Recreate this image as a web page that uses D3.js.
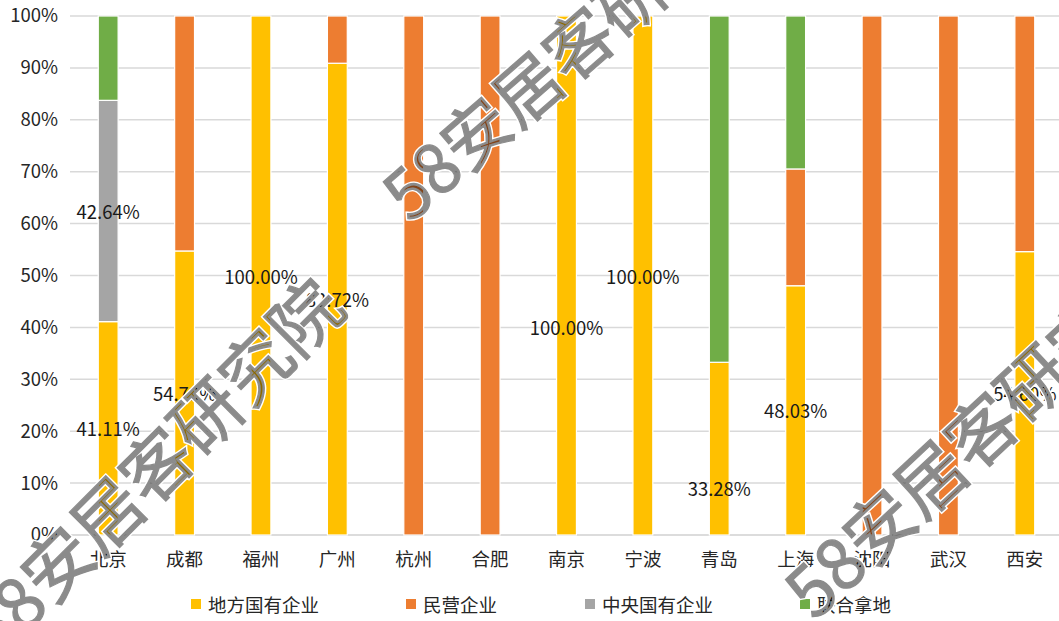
<!DOCTYPE html>
<html>
<head>
<meta charset="utf-8">
<script src="https://cdn.jsdelivr.net/npm/d3@7"></script>
<style>
html,body{margin:0;padding:0;background:#fff;}
svg{display:block;font-family:"Noto Sans CJK SC","Noto Sans",sans-serif;}
</style>
</head>
<body>
<svg id="chart" width="1059" height="621"></svg>
<script>
// ---- data ----
const cities = ["北京","成都","福州","广州","杭州","合肥","南京","宁波","青岛","上海","沈阳","武汉","西安"];
const seriesNames = ["地方国有企业","民营企业","中央国有企业","联合拿地"];
const localSOE   = [41.11, 54.73, 100, 90.9, 0, 0, 100, 100, 33.28, 48.03, 0, 0, 54.60];
const privateCo  = [0, 45.27, 0, 9.1, 100, 100, 0, 0, 0, 22.50, 100, 100, 45.40];
const centralSOE = [42.64, 0, 0, 0, 0, 0, 0, 0, 0, 0, 0, 0, 0];
const jointBid   = [16.25, 0, 0, 0, 0, 0, 0, 0, 66.72, 29.47, 0, 0, 0];
const localLabels   = ["41.11%","54.73%","100.00%","82.72%","","","100.00%","100.00%","33.28%","48.03%","","","54.60%"];
const centralLabels = ["42.64%","","","","","","","","","","","",""];
const yTicks = [0,10,20,30,40,50,60,70,80,90,100];
const watermarkText = "58安居客研究院";

// ---- styles ----
const colors = ["#FFC000","#ED7D31","#A5A5A5","#70AD47"];
const W = 1059, H = 621;
const svg = d3.select("#chart");

const x = d3.scaleBand().domain(cities).range([70, 1063]).paddingInner(0.74).paddingOuter(0.37);
const y = d3.scaleLinear().domain([0,100]).range([535,16]);

// gridlines
svg.append("g").selectAll("line").data(yTicks).join("line")
  .attr("x1", 70).attr("x2", W)
  .attr("y1", d => y(d)).attr("y2", d => y(d))
  .attr("stroke", d => d === 0 ? "#D0D0D0" : "#D9D9D9").attr("stroke-width", 1.5);

// y axis labels
const yAxis = d3.axisLeft(y).tickValues(yTicks).tickFormat(d => d + "%").tickSize(0).tickPadding(0);
const gy = svg.append("g").attr("transform", "translate(58,0)").call(yAxis);
gy.select(".domain").remove();
gy.selectAll("text").attr("font-size", 18.5).attr("fill", "#262626")
  .attr("font-family", '"Noto Sans CJK SC",sans-serif');

// x axis labels
const xAxis = d3.axisBottom(x).tickSize(0).tickPadding(0);
const gx = svg.append("g").attr("transform", "translate(0,553)").call(xAxis);
gx.select(".domain").remove();
gx.selectAll("text").attr("font-size", 18.5).attr("fill", "#262626")
  .attr("font-family", '"Noto Sans CJK SC",sans-serif');

// stacked data
const rows = cities.map((c,i) => ({city:c, s0:localSOE[i], s1:privateCo[i], s2:centralSOE[i], s3:jointBid[i]}));
const stack = d3.stack().keys(["s0","s1","s2","s3"]);
const stacked = stack(rows);

svg.append("g").selectAll("g").data(stacked).join("g")
  .attr("fill", (d,i) => colors[i])
  .selectAll("rect").data(d => d.filter(p => p[1] - p[0] > 0)).join("rect")
  .attr("x", p => x(p.data.city))
  .attr("width", x.bandwidth())
  .attr("y", p => y(p[1]))
  .attr("height", p => y(p[0]) - y(p[1]))
  .attr("stroke", "#fff").attr("stroke-width", 1.2);

// data labels
const labelShift = {"南京": -10, "青岛": -7.6};
const labels = [];
cities.forEach((c,i) => {
  if (localLabels[i]) {
    const mid = localSOE[i] / 2 + (labelShift[c] || 0);
    labels.push({city:c, v:mid, t:localLabels[i]});
  }
  if (centralLabels[i]) {
    const base = localSOE[i] + privateCo[i];
    labels.push({city:c, v: base + centralSOE[i]/2, t:centralLabels[i]});
  }
});
svg.append("g").selectAll("text").data(labels).join("text")
  .attr("x", d => x(d.city) + x.bandwidth()/2)
  .attr("y", d => y(d.v))
  .attr("text-anchor", "middle").attr("dominant-baseline", "central")
  .attr("font-size", 18.5).attr("fill", "#1a1a1a")
  .text(d => d.t);

// legend
const legendX = [191, 406, 585, 800];
const lg = svg.append("g").selectAll("g").data(seriesNames).join("g")
  .attr("transform", (d,i) => `translate(${legendX[i]},604)`);
lg.append("rect").attr("x", 0).attr("y", -5).attr("width", 10).attr("height", 10)
  .attr("fill", (d,i) => colors[i]);
lg.append("text").attr("x", 17).attr("y", 0).attr("dominant-baseline", "central")
  .attr("font-size", 18.5).attr("fill", "#262626").text(d => d);

// watermarks
const wm = [
  {x: 391, y: 202, a: -41, s: 68},
  {x: -25, y: 641, a: -45, s: 70},
  {x: 794, y: 600, a: -43, s: 70}
];
const wg = svg.append("g").attr("pointer-events", "none");
wm.forEach(w => {
  const g = wg.append("g").attr("transform", `translate(${w.x},${w.y}) rotate(${w.a})`);
  g.append("text").attr("font-size", w.s).attr("dominant-baseline", "central")
    .attr("fill", "none").attr("stroke", "#fff").attr("stroke-width", 4)
    .text(watermarkText);
  g.append("g").attr("opacity", 0.45)
    .append("text").attr("font-size", w.s).attr("dominant-baseline", "central")
    .attr("fill", "#000").attr("stroke", "#000").attr("stroke-width", 1.2)
    .text(watermarkText);
});
</script>
</body>
</html>
